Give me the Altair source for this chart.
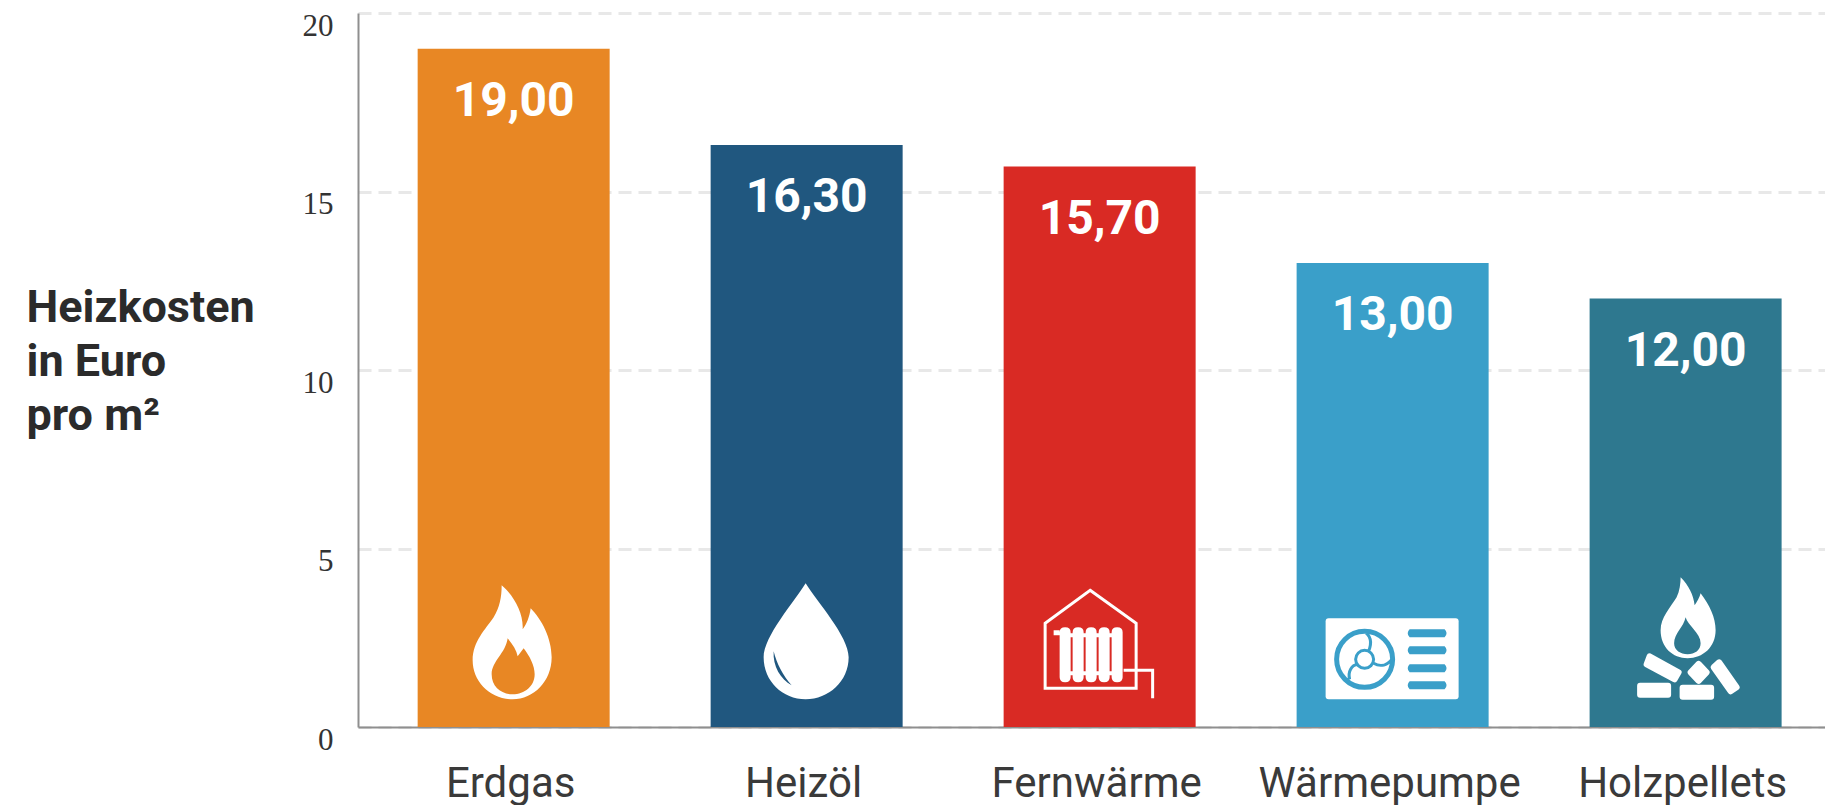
import altair as alt
import pandas as pd

categories = ["Erdgas", "Heizöl", "Fernwärme", "Wärmepumpe", "Holzpellets"]
costs = [19.0, 16.3, 15.7, 13.0, 12.0]
cost_labels = ["19,00", "16,30", "15,70", "13,00", "12,00"]
colors = ["#E88724", "#20577F", "#D92A24", "#3A9FC9", "#2E788F"]
y_ticks = [0, 5, 10, 15, 20]
y_title = ["Heizkosten", "in Euro", "pro m²"]
icon_level = 2.4

# Icon glyphs, as SVG paths in pixels around the icon's anchor
FLAME = ("M-12,-56 C0,-46 10,-28 9,-12 C13,-17 16,-25 17,-33 C28,-22 38,-3 38,16 "
         "C38,40 20,58 -1,58 C-24,58 -41,40 -41,19 C-41,0 -28,-12 -20,-24 C-14,-34 -12,-44 -12,-56 Z")
FLAME_IN = ("M-6,-3 C-1,3 3,9 4,15 L10,7 C16,15 21,24 21,33 C21,45 11,53 -1,53 "
            "C-13,53 -22,45 -22,33 C-22,20 -8,12 -6,-3 Z")
DROP = ("M-1,-58 C10,-40 42,-5 42,16 C42,40 22,58 -1,58 C-24,58 -43,40 -43,16 "
        "C-43,-5 -12,-40 -1,-58 Z")
DROP_IN = "M-33,10 C-34,25 -26,38 -15,44 C-24,34 -30,22 -33,10 Z"
HOUSE = "M-9.5,-51 L36.5,-18 L36.5,47 L-54.5,47 L-54.5,-18 Z"
PIPE = "M24,29 L53,29 L53,57"
FIN = "M{a},-9 Q{a},-14 {m},-14 Q{b},-14 {b},-9 L{b},36 Q{b},41 {m},41 Q{a},41 {a},36 Z "
RADIATOR = "".join(FIN.format(a=a, b=a + 11, m=a + 5.5) for a in (-40, -27, -14, -1, 12))
RADIATOR += ("M-46,-11 L-40,-11 L-40,-6 L-46,-6 Z "
             "M-40,-8 L23,-8 L23,-4 L-40,-4 Z M-40,30 L23,30 L23,34 L-40,34 Z")
UNIT = ("M-64,-23 L63,-23 Q66,-23 66,-20 L66,55 Q66,58 63,58 L-64,58 Q-67,58 -67,55 "
        "L-67,-20 Q-67,-23 -64,-23 Z")
VENT = "M17,{t} L52,{t} Q56,{m} 52,{b} L17,{b} Q13,{m} 17,{t} Z "
VENTS = "".join(VENT.format(t=y - 4, m=y, b=y + 4) for y in (-8, 9, 27, 44))
RING = ("M1,18 A29,29 0 1 1 -57,18 A29,29 0 1 1 1,18 Z "
        "M-1,18 A27,27 0 1 1 -55,18 A27,27 0 1 1 -1,18 Z "
        "M-19,18 A9,9 0 1 1 -37,18 A9,9 0 1 1 -19,18 Z "
        "M-24,10 C-20,0 -22,-6 -29,-10 M-19,22 C-12,26 -5,24 0,17 M-35,23 C-41,24 -45,30 -43,38")
WOOD_FLAME = ("M-5,-64 C3,-56 8,-46 9,-36 C11,-39 14,-44 15,-48 C24,-36 30,-24 30,-11 "
              "C30,6 17,17 2,17 C-13,17 -25,6 -25,-11 C-25,-24 -15,-34 -9,-44 C-6,-50 -5,-58 -5,-64 Z")
WOOD_IN = ("M0,-24 C2,-16 15,-8 15,2 C15,9 9,13 2,13 C-5,13 -11.5,9 -11.5,2 "
           "C-11.5,-8 -2,-14 0,-24 Z")
PELLETS = ("M-45.5,44.5 L-17.5,44.5 L-17.5,53.5 L-45.5,53.5 Z "
           "M-3,46.5 L25.5,46.5 L25.5,55.5 L-3,55.5 Z "
           "M-36,15 L-7,31 L-11,38 L-39,23 Z "
           "M13,22.5 L21,31 L13,39.5 L5,31 Z "
           "M33.5,21 L51,46 L45,50 L28,26 Z")

icon_parts = [
    ("Erdgas", FLAME, "white", "fill"),
    ("Erdgas", FLAME_IN, "#E88724", "fill"),
    ("Heizöl", DROP, "white", "fill"),
    ("Heizöl", DROP_IN, "#20577F", "fill"),
    ("Fernwärme", RADIATOR, "white", "fill"),
    ("Fernwärme", HOUSE, "white", "line"),
    ("Fernwärme", PIPE, "white", "line"),
    ("Wärmepumpe", UNIT, "white", "fill"),
    ("Wärmepumpe", VENTS, "#3A9FC9", "fill"),
    ("Wärmepumpe", RING, "#3A9FC9", "line"),
    ("Holzpellets", WOOD_FLAME, "white", "fill"),
    ("Holzpellets", WOOD_IN, "#2E788F", "fill"),
    ("Holzpellets", PELLETS, "white", "soft"),
]

bars_df = pd.DataFrame({"kind": categories, "cost": costs, "label": cost_labels, "color": colors})
icons_df = pd.DataFrame(icon_parts, columns=["kind", "path", "paint", "style"])
icons_df["level"] = icon_level

x_axis = alt.Axis(
    title=None, labelAngle=0, ticks=False, labelFont="Roboto", labelFontSize=42,
    labelColor="#3a3a3a", labelPadding=69, labelBaseline="alphabetic", labelOffset=-3,
    domainColor="#8f8f8f", domainWidth=2, grid=False, labelOverlap=False, labelLimit=0,
)
x_scale = alt.Scale(domain=categories, paddingInner=0.34, paddingOuter=0.1735, align=0.58)
y_axis = alt.Axis(
    values=y_ticks, title=y_title, titleAngle=0, titleAlign="left",
    titleBaseline="alphabetic", titleX=-332, titleY=308, titleFont="Roboto",
    titleFontSize=45, titleFontWeight="bold", titleColor="#2b2b2b", titleLineHeight=54,
    labelFont="Liberation Serif", labelFontSize=31, labelColor="#333333",
    labelOffset=13, labelPadding=25, ticks=False, domainColor="#8f8f8f", domainWidth=2,
    grid=True, gridColor="#e8e8e8", gridDash=[13, 7], gridWidth=3,
)
y_scale = alt.Scale(domain=[0, 20], nice=False)

x = alt.X("kind:N", sort=categories, scale=x_scale, axis=x_axis)
y = alt.Y("cost:Q", scale=y_scale, axis=y_axis)
icon_y = alt.Y("level:Q", scale=y_scale, axis=y_axis)

bars = alt.Chart(bars_df).mark_bar(size=192).encode(
    x=x, y=y, color=alt.Color("color:N", scale=None, legend=None)
)
values = alt.Chart(bars_df).mark_text(
    font="Roboto", fontSize=48, fontWeight="bold", color="white", baseline="alphabetic", dy=67
).encode(x=x, y=y, text="label:N")


def icon_layer(style, **mark):
    return alt.Chart(icons_df).transform_filter(f"datum.style == '{style}'").mark_point(
        size=4, opacity=1, **mark
    ).encode(
        x=x, y=icon_y,
        shape=alt.Shape("path:N", scale=None, legend=None),
        fill=alt.Fill("paint:N", scale=None, legend=None),
        stroke=alt.Stroke("paint:N", scale=None, legend=None),
    )


filled = icon_layer("fill", filled=True, strokeWidth=0)
soft = icon_layer("soft", filled=True, strokeWidth=6, strokeJoin="round")
lined = alt.Chart(icons_df).transform_filter("datum.style == 'line'").mark_point(
    size=4, filled=False, opacity=1, strokeWidth=3
).encode(
    x=x, y=icon_y,
    shape=alt.Shape("path:N", scale=None, legend=None),
    stroke=alt.Stroke("paint:N", scale=None, legend=None),
)

chart = (
    alt.layer(bars, values, filled, soft, lined)
    .properties(
        width=1467,
        height=714,
        background="white",
        padding={"left": 350, "top": 5, "right": 0, "bottom": 78},
        autosize=alt.AutoSizeParams(type="none"),
    )
    .configure_view(stroke=None)
)

chart.save("out.html", embed_options={"renderer": "svg", "actions": False})
